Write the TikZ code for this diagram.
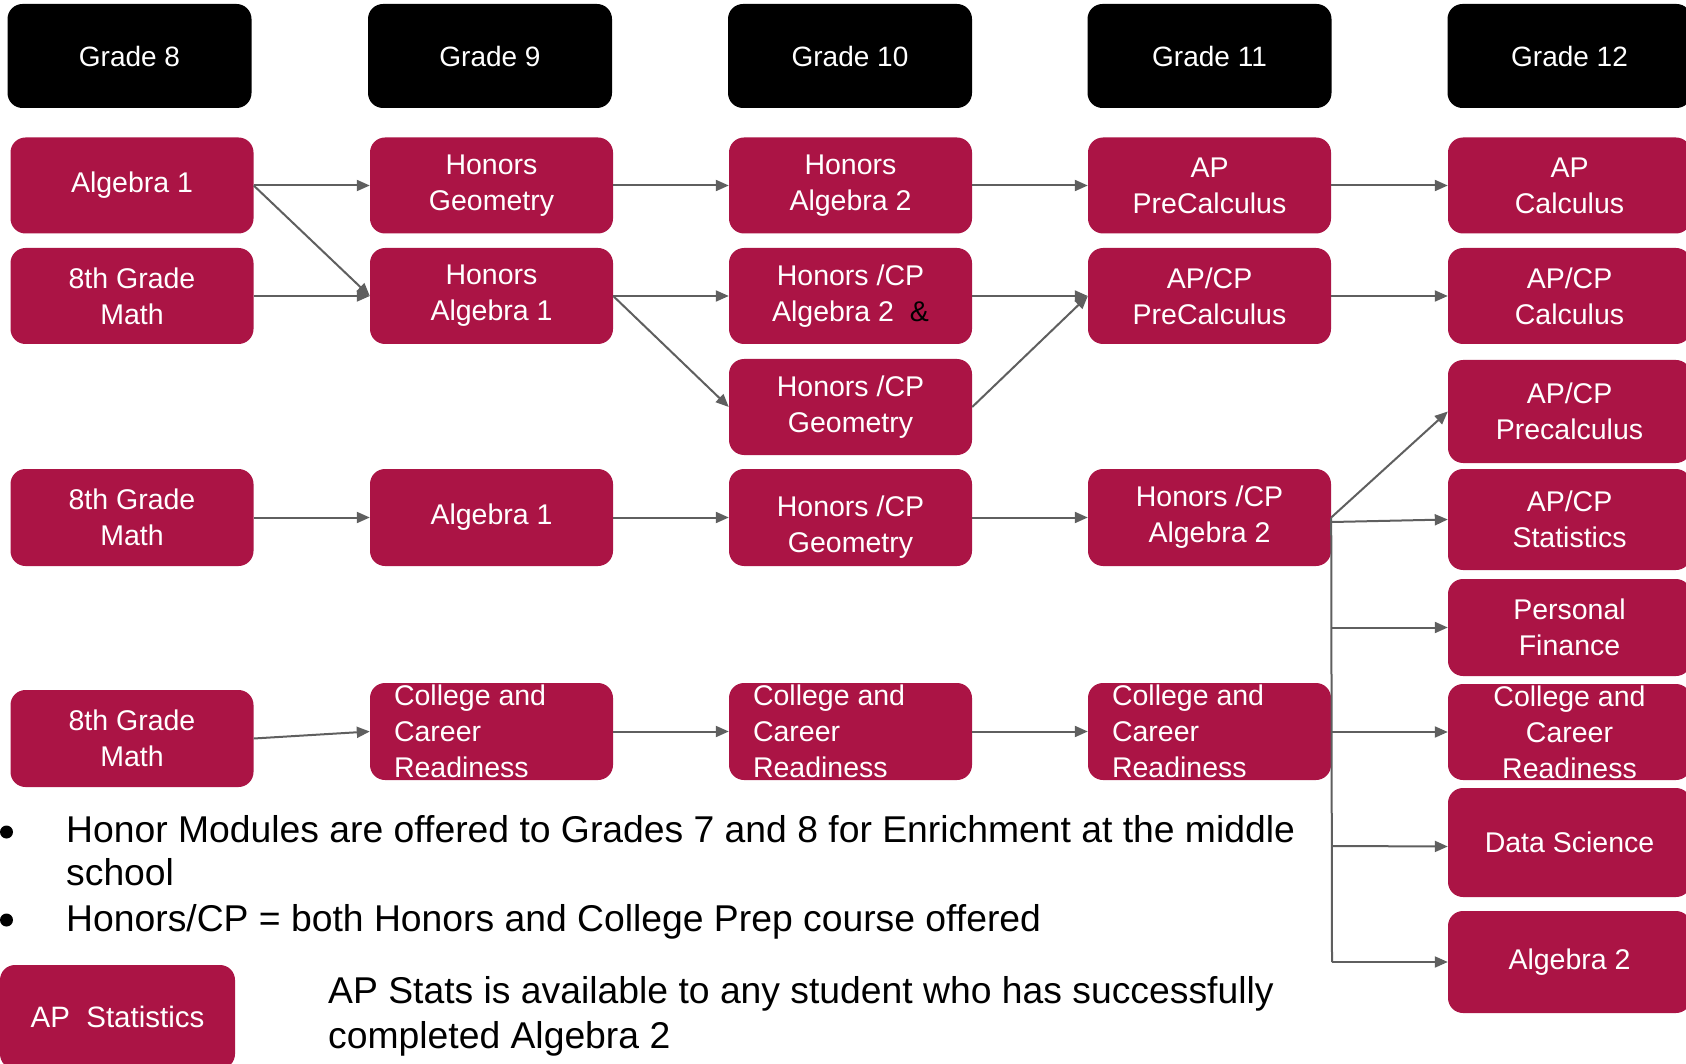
\documentclass[tikz,border=0pt]{standalone}
\usepackage{fontspec}
\setmainfont{Liberation Sans}
\usetikzlibrary{arrows.meta,calc}
\definecolor{crim}{HTML}{AB1445}
\definecolor{conncol}{HTML}{5F5F5F}
\tikzset{
 hdr/.style={fill=black, rounded corners=15pt, minimum width=244pt, minimum height=104pt, text=white, font=\fontsize{28}{36}\selectfont, inner sep=0pt},
 cbox/.style={fill=crim, rounded corners=15pt, minimum width=243pt, minimum height=96pt, text=white, font=\fontsize{28.5}{36}\selectfont, align=center, inner sep=0pt},
 btext/.style={text=white, font=\fontsize{28.5}{36}\selectfont, inner sep=0pt},
 conn/.style={draw=conncol, line width=2pt, -{Triangle[length=13pt,width=11pt]}},
 plainline/.style={draw=conncol, line width=2pt},
 note/.style={font=\fontsize{37.3}{44}\selectfont, text=black, inner sep=0pt, anchor=base west},
}
\begin{document}
\begin{tikzpicture}[x=1pt,y=-1pt]
\useasboundingbox (0,0) rectangle (1686,1064);
\clip (0,0) rectangle (1686,1064);
% headers
\node[hdr] (g8) at (129.5,56) {Grade 8};
\node[hdr] (g9) at (490,56) {Grade 9};
\node[hdr] (g10) at (850,56) {Grade 10};
\node[hdr] (g11) at (1209.5,56) {Grade 11};
\node[hdr] (g12) at (1569.5,56) {Grade 12};
% row 1
\node[cbox] (a1) at (132,185.5) {Algebra 1};
\node[cbox] (hgeo) at (491.5,185.5) {Honors\\Geometry};
\node[cbox] (halg2) at (850.5,185.5) {Honors\\Algebra 2};
\node[cbox] (appc) at (1209.5,185.5) {AP\\PreCalculus};
\node[cbox] (apcalc) at (1569.5,185.5) {AP\\Calculus};
% row 2
\node[cbox] (m8a) at (132,296) {8th Grade\\Math};
\node[cbox] (halg1) at (491.5,296) {Honors\\Algebra 1};
\node[cbox] (hcpa2) at (850.5,296) {Honors /CP\\Algebra 2\ \ \textcolor{black}{\&}};
\node[cbox] (apcppc) at (1209.5,296) {AP/CP\\PreCalculus};
\node[cbox] (apcpcalc) at (1569.5,296) {AP/CP\\Calculus};
% row 3
\node[cbox] (hcpgeo) at (850.5,407) {Honors /CP\\Geometry};
\node[cbox, minimum height=103pt] (apcpprec) at (1569.5,411.5) {AP/CP\\Precalculus};
% row 4
\node[cbox, minimum height=97pt] (m8b) at (132,517.5) {8th Grade\\Math};
\node[cbox, minimum height=97pt] (alg1b) at (491.5,517.5) {Algebra 1};
\node[cbox, minimum height=97pt] (hcpgeob) at (850.5,517.5) {};
\node[btext, align=center] (hcpgeobt) at ($(hcpgeob)+(0,10)$) {Honors /CP\\Geometry};
\node[cbox, minimum height=97pt] (hcpa2b) at (1209.5,517.5) {Honors /CP\\Algebra 2};
\node[cbox, minimum height=101pt] (apcpstat) at (1569.5,519.5) {AP/CP\\Statistics};
\node[cbox, minimum height=97pt] (pf) at (1569.5,627.5) {Personal\\Finance};
% row 5
\node[cbox, minimum height=97pt] (m8c) at (132,738.5) {8th Grade\\Math};
\node[cbox, minimum height=97pt] (ccr9) at (491.5,731.5) {};
\node[btext, align=left, anchor=west] (ccr9t) at ($(ccr9.west)+(24,0)$) {College and\\Career\\Readiness};
\node[cbox, minimum height=97pt] (ccr10) at (850.5,731.5) {};
\node[btext, align=left, anchor=west] (ccr10t) at ($(ccr10.west)+(24,0)$) {College and\\Career\\Readiness};
\node[cbox, minimum height=97pt] (ccr11) at (1209.5,731.5) {};
\node[btext, align=left, anchor=west] (ccr11t) at ($(ccr11.west)+(24,0)$) {College and\\Career\\Readiness};
\node[cbox, minimum height=96pt] (ccr12) at (1569.5,732) {};
\node[btext, align=center] (ccr12t) at (ccr12) {College and\\Career\\Readiness};
\node[cbox, minimum height=109pt] (ds) at (1569.5,842.5) {Data Science};
\node[cbox, minimum height=102pt] (alg2) at (1569.5,962) {Algebra 2};
% legend
\node[cbox, minimum width=235pt, minimum height=104pt, font=\fontsize{29.5}{36}\selectfont] (legend) at (117.5,1017) {AP\ \ Statistics};
% notes
\fill (6.5,832) circle (6.5);
\fill (6.5,920) circle (6.5);
\node[note] (n1) at (66,842) {Honor Modules are offered to Grades 7 and 8 for Enrichment at the middle};
\node[note] (n2) at (66,885) {school};
\node[note] (n3) at (66,931) {Honors/CP = both Honors and College Prep course offered};
\node[note] (s1) at (328,1003) {AP Stats is available to any student who has successfully};
\node[note] (s2) at (328,1048) {completed Algebra 2};
% connectors
\draw[conn] (a1.east) -- (hgeo.west);
\draw[conn] (a1.east) -- (halg1.west);
\draw[conn] (m8a.east) -- (halg1.west);
\draw[conn] (hgeo.east) -- (halg2.west);
\draw[conn] (halg2.east) -- (appc.west);
\draw[conn] (appc.east) -- (apcalc.west);
\draw[conn] (halg1.east) -- (hcpa2.west);
\draw[conn] (halg1.east) -- (hcpgeo.west);
\draw[conn] (hcpa2.east) -- (apcppc.west);
\draw[conn] (hcpgeo.east) -- (apcppc.west);
\draw[conn] (apcppc.east) -- (apcpcalc.west);
\draw[conn] (m8b.east) -- (alg1b.west);
\draw[conn] (alg1b.east) -- (hcpgeob.west);
\draw[conn] (hcpgeob.east) -- (hcpa2b.west);
\draw[conn] (hcpa2b.east) -- (apcpprec.west);
\coordinate (jb) at (1332,962);
\coordinate (b1) at (1332,522);
\coordinate (b2) at (1332,627.5);
\coordinate (b3) at (1332,732);
\coordinate (b4) at (1332,846);
\draw[plainline] (hcpa2b.east) -- (jb);
\draw[conn] (b1) -- (apcpstat.west);
\draw[conn] (b2) -- (pf.west);
\draw[conn] (b3) -- (ccr12.west);
\draw[conn] (b4) -- ($(ds.west)+(0,4)$);
\draw[conn] (jb) -- (alg2.west);
\draw[conn] (m8c.east) -- (ccr9.west);
\draw[conn] (ccr9.east) -- (ccr10.west);
\draw[conn] (ccr10.east) -- (ccr11.west);
\end{tikzpicture}
\end{document}
